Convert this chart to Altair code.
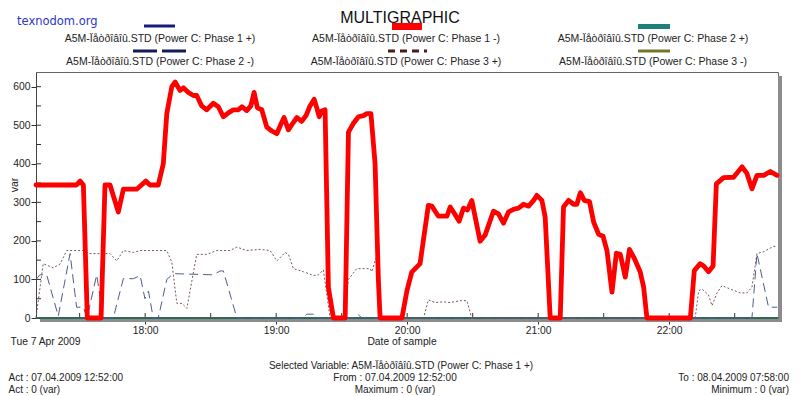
import altair as alt
import pandas as pd

# ---------------- data (minutes after 17:00 on 7 Apr 2009, value in var) ----------------
red_min = [10, 28.6, 30.2, 31.7, 33.5, 39.8, 41.6, 43.9, 47.7, 50.0,
           56.1, 60.3, 62.2, 66.0, 68.3, 69.9, 72.2, 73.7, 76.0, 77.5,
           79.8, 82.1, 83.6, 85.9, 88.2, 91.2, 93.5, 95.8, 98.1, 100.4,
           102.7, 104.3, 106.5, 108.4, 109.9, 111.4, 113.4, 115.7, 118.0, 120.3,
           122.1, 123.6, 125.6, 127.6, 129.5, 131.7, 133.7, 135.5, 137.4, 138.6,
           139.7, 140.9, 142.4, 143.2, 143.9, 146.2, 151.6, 153.1, 155.4, 157.7,
           160.0, 161.5, 163.4, 165.3, 166.8, 167.6, 177.6, 179.9, 182.1, 185.9,
           189.7, 191.3, 194.3, 198.2, 199.7, 201.2, 203.8, 205.8, 207.6, 209.6,
           213.4, 215.7, 219.5, 221.8, 224.1, 226.4, 228.7, 231.0, 233.3, 235.6,
           237.9, 239.4, 241.7, 243.2, 245.5, 250.1, 251.6, 253.9, 256.2, 257.7,
           259.3, 261.1, 263.5, 265.4, 267.7, 269.7, 271.5, 273.8, 275.8, 277.6,
           279.9, 281.8, 284.0, 286.7, 288.3, 289.8, 309.7, 311.5, 314.2, 315.8,
           318.0, 320.1, 321.6, 324.9, 329.5, 333.4, 335.6, 337.9, 340.2, 343.3,
           346.3, 349.4]
red_val = [345, 345, 355, 345, 0, 0, 345, 345, 275, 334,
           334, 355, 345, 345, 400, 530, 600, 612, 590, 597,
           585, 577, 577, 550, 540, 557, 548, 522, 532, 540,
           540, 548, 538, 550, 585, 545, 540, 495, 485, 478,
           502, 520, 488, 505, 520, 510, 525, 550, 567, 545,
           522, 537, 540, 300, 80, 0, 0, 482, 505, 522,
           525, 530, 530, 400, 100, 0, 0, 71, 119, 141,
           292, 290, 264, 264, 288, 275, 251, 285, 280, 305,
           199, 215, 277, 270, 246, 275, 282, 285, 295, 290,
           305, 318, 305, 262, 0, 0, 288, 305, 295, 295,
           325, 305, 302, 249, 217, 212, 175, 67, 168, 165,
           106, 178, 155, 120, 80, 0, 0, 123, 141, 135,
           120, 135, 348, 364, 365, 392, 375, 335, 370, 370,
           380, 370]

p2m_min = [10.0, 11.8, 14.9, 20.2, 25.6, 28.6, 31.7, 33.4, 37.8, 40.8,
           45.4, 50.0, 54.6, 57.7, 59.9, 61.5, 63.7, 66.0, 69.9, 72.9,
           91.2, 94.3, 95.8, 102.0, 132.5, 134.0, 137.1, 138.6, 156.2, 157.7,
           159.2, 337.9, 340.2, 345.5, 349.5]
p2m_val = [100, 112, 112, 5, 167, 28, 28, 0, 112, 0,
           0, 102, 102, 110, 50, 70, 0, 0, 100, 115,
           112, 122, 122, 0, 0, 10, 10, 0, 0, 8,
           0, 0, 167, 28, 28]

p3p_min = [10.0, 13.3, 17.9, 21.0, 24.1, 31.7, 34.7, 43.9, 47.0, 50.0,
           54.6, 57.7, 69.9, 72.2, 74.5, 76.8, 79.1, 83.6, 88.2, 92.8,
           98.9, 102.0, 106.5, 112.6, 117.2, 120.3, 124.1, 125.6, 127.9, 132.5,
           137.1, 139.4, 141.6, 144.7, 150.6, 153.1, 156.9, 163.0, 163.8, 166.1,
           168.1, 187.5, 189.7, 192.8, 196.6, 199.7, 204.3, 207.3, 209.6, 311.9,
           313.5, 315.0, 318.0, 319.6, 321.9, 324.2, 328.0, 332.6, 335.6, 337.9,
           340.2, 343.3, 347.8, 349.5]
p3p_val = [0, 141, 130, 140, 175, 175, 167, 167, 148, 175,
           170, 175, 175, 145, 38, 38, 25, 165, 165, 175,
           175, 184, 175, 178, 175, 148, 170, 165, 128, 120,
           110, 112, 125, 0, 0, 100, 128, 128, 120, 162,
           0, 0, 47, 40, 42, 40, 45, 45, 0, 0,
           71, 75, 60, 32, 65, 84, 75, 65, 65, 80,
           167, 172, 186, 185]

zero_min = [10.0, 349.9]
zero_val = [0, 0]

y_ticks = [0, 100, 200, 300, 400, 500, 600]
y_minor = [0, 50, 100, 150, 200, 250, 300, 350, 400, 450, 500, 550, 600]
x_hours = [18, 19, 20, 21, 22]
x_minor_min = [30, 60, 90, 120, 150, 180, 210, 240, 270, 300, 330]

VAR = "A5M-Ïåòðîâîû.STD"
legend_labels = [f"{VAR} (Power C: Phase 1 +)", f"{VAR} (Power C: Phase 1 -)", f"{VAR} (Power C: Phase 2 +)",
                 f"{VAR} (Power C: Phase 2 -)", f"{VAR} (Power C: Phase 3 +)", f"{VAR} (Power C: Phase 3 -)"]
title_text = "MULTIGRAPHIC"
site_text = "texnodom.org"
date_text = "Tue 7 Apr 2009"
xtitle_text = "Date of sample"
ytitle_text = "var"
selected_text = f"Selected Variable: {VAR} (Power C: Phase 1 +)"
footer_left = ["Act : 07.04.2009 12:52:00", "Act : 0 (var)"]
footer_mid = ["From : 07.04.2009 12:52:00", "Maximum : 0 (var)"]
footer_right = ["To : 08.04.2009 07:58:00", "Minimum : 0 (var)"]

# ---------------- helpers ----------------
BASE = pd.Timestamp("2009-04-07 17:00:00")
FONT = "Liberation Sans, Arial, sans-serif"
TXT = "#222222"


def frame(mins, vals):
    return pd.DataFrame({
        "t": [(BASE + pd.Timedelta(minutes=m)).strftime("%Y-%m-%dT%H:%M:%S") for m in mins],
        "v": vals,
    })


def dt(h, m=0, s=0):
    return alt.DateTime(year=2009, month=4, date=7, hours=h, minutes=m, seconds=s)


xscale = alt.Scale(domain=[dt(17, 10), dt(22, 49, 50)])
yscale = alt.Scale(domain=[0, 638], nice=False, zero=False)

X = alt.X("t:T", scale=xscale, title=None,
          axis=alt.Axis(values=[dt(h) for h in x_hours], format="%H:%M", tickSize=6, tickColor="#333",
                        domain=False, grid=False, labelFont=FONT, labelFontSize=10.3, labelColor=TXT,
                        labelPadding=1, labelFlush=False))
Y = alt.Y("v:Q", scale=yscale, title=None,
          axis=alt.Axis(values=y_ticks, tickSize=5, tickColor="#333", domainColor="#444", grid=False,
                        labelFont=FONT, labelFontSize=10.3, labelColor=TXT, labelPadding=1))

one = pd.DataFrame({"a": [0]})


def txt(s, x, y, align="center", size=10, font=FONT, color=TXT, angle=0):
    kw = dict(align=align, baseline="middle", fontSize=size, font=font, color=color)
    if angle:
        kw["angle"] = angle
    return alt.Chart(pd.DataFrame({"s": [s]})).mark_text(**kw).encode(
        x=alt.value(x), y=alt.value(y), text="s:N")


def sample(x1, x2, y, color, width, dash=None):
    kw = dict(color=color, strokeWidth=width)
    if dash:
        kw["strokeDash"] = dash
    return alt.Chart(one).mark_rule(**kw).encode(x=alt.value(x1), x2=alt.value(x2), y=alt.value(y))


layers = []

# shadow of the plot frame
layers.append(alt.Chart(one).mark_rect(color="#8c8c8c").encode(
    x=alt.value(4), x2=alt.value(746), y=alt.value(246.5), y2=alt.value(250)))
layers.append(alt.Chart(one).mark_rect(color="#8c8c8c").encode(
    x=alt.value(742), x2=alt.value(746), y=alt.value(4), y2=alt.value(250)))

# inner ticks
layers.append(alt.Chart(frame(x_minor_min, [0] * len(x_minor_min))).mark_rule(color="#333").encode(
    x=X, y=alt.value(246), y2=alt.value(241)))
layers.append(alt.Chart(pd.DataFrame({"v": y_minor})).mark_rule(color="#333").encode(
    y=Y, x=alt.value(0), x2=alt.value(5)))

# zero series
layers.append(alt.Chart(frame(zero_min, zero_val)).mark_line(color="#1a1a7a", strokeWidth=1.5).encode(x=X, y=Y))
layers.append(alt.Chart(frame(zero_min, zero_val)).mark_line(color="#6b6b22", strokeWidth=1.5).encode(x=X, y=Y))
layers.append(alt.Chart(frame(zero_min, zero_val)).mark_line(color="#1f6b64", strokeWidth=1.5).encode(x=X, y=Y))

# Phase 2 - (long dashes)
layers.append(alt.Chart(frame(p2m_min, p2m_val)).mark_line(
    color="#4f5d8e", strokeWidth=1, strokeDash=[9, 5]).encode(x=X, y=Y))
# Phase 3 + (dots)
layers.append(alt.Chart(frame(p3p_min, p3p_val)).mark_line(
    color="#7a5656", strokeWidth=1, strokeDash=[2, 2]).encode(x=X, y=Y))
# Phase 1 - (thick red)
layers.append(alt.Chart(frame(red_min, red_val)).mark_line(
    color="#ff0000", strokeWidth=4.8, strokeJoin="round", strokeCap="round").encode(x=X, y=Y))

# header
layers.append(txt(title_text, 364, -54.5, size=16, font="Liberation Sans", color="#111"))
layers.append(txt(site_text, -19, -50, align="left", size=11.5, font="DejaVu Sans", color="#2b35c8"))

# legend
layers.append(sample(108, 139, -46, "#1a1a7a", 3))
layers.append(sample(356, 386, -45.5, "#ff0000", 7))
layers.append(sample(602, 634, -45.5, "#1f7f7a", 5))
layers.append(sample(97, 150, -21, "#141a5a", 3, [24, 5]))
layers.append(sample(352, 391, -21, "#4d1a1a", 3, [7, 5]))
layers.append(sample(602, 634, -21, "#76762a", 3))
for i, lab in enumerate(legend_labels):
    col, row = i % 3, i // 3
    layers.append(txt(lab, [124, 370, 617][col], [-33, -10][row], size=10.5))

# axis titles / footer
layers.append(txt(ytitle_text, -21, 113, angle=270, size=10.5))
layers.append(txt(date_text, -25.5, 269.7, size=10.3, align="left"))
layers.append(txt(xtitle_text, 366, 269.7, size=10.3))
layers.append(txt(selected_text, 365, 294))
for j, yy in enumerate([306.3, 318]):
    layers.append(txt(footer_left[j], -27.5, yy, align="left"))
    layers.append(txt(footer_mid[j], 359, yy))
    layers.append(txt(footer_right[j], 753, yy, align="right"))

chart = alt.layer(*layers).properties(
    width=742, height=246,
    padding={"left": 28, "top": 64, "right": 14, "bottom": 78},
    autosize=alt.AutoSizeParams(type="none"),
).configure_view(stroke="#666", strokeWidth=1)

chart.save("out.html", embed_options={"renderer": "svg", "actions": False})
